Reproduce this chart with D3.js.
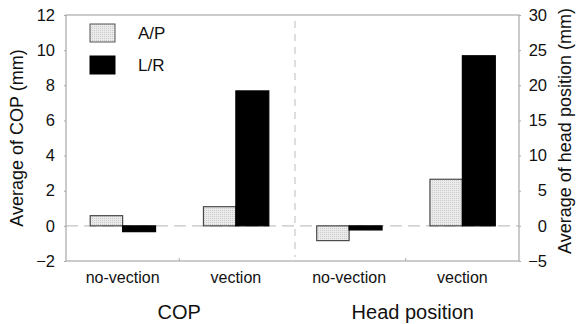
<!DOCTYPE html>
<html>
<head>
<meta charset="utf-8">
<script src="https://cdn.jsdelivr.net/npm/d3@7"></script>
<style>
  html, body { margin: 0; padding: 0; background: #fff; }
  svg { display: block; font-family: "Liberation Sans", Arial, sans-serif; }
</style>
</head>
<body>
<svg id="chart" width="578" height="324"></svg>
<script>
// Panels and conditions
const panels = ["COP", "Head position"];
const conditions = ["no-vection", "vection"];
const seriesNames = ["A/P", "L/R"];

// Mean displacement (mm) per panel, condition and direction
const copAP = [0.58, 1.09];
const copLR = [-0.33, 7.68];
const headAP = [-2.1, 6.63];
const headLR = [-0.58, 24.2];

// Axis tick labels
const copTicks = [-2, 0, 2, 4, 6, 8, 10, 12];
const headTicks = [-5, 0, 5, 10, 15, 20, 25, 30];

const svg = d3.select("#chart");
const margin = { left: 66, right: 59, top: 15, bottom: 63 };
const W = 578, H = 324;
const x0 = margin.left, x1 = W - margin.right;
const yTop = margin.top, yBot = H - margin.bottom;

// One band per (panel, condition) pair
const slots = [];
panels.forEach(p => conditions.forEach(c => slots.push(p + "|" + c)));
const x = d3.scaleBand().domain(slots).range([x0, x1]);
const xs = d3.scaleBand().domain(seriesNames).range([0, x.bandwidth()]).paddingOuter(0.72).paddingInner(0);

const yCop = d3.scaleLinear().domain([-2, 12]).range([yBot, yTop]);
const yHead = d3.scaleLinear().domain([-5, 30]).range([yBot, yTop]);

// Fine stipple fill for the A/P bars
const defs = svg.append("defs");
const pat = defs.append("pattern").attr("id", "dots")
  .attr("width", 2).attr("height", 2).attr("patternUnits", "userSpaceOnUse");
pat.append("rect").attr("width", 2).attr("height", 2).attr("fill", "#ebebeb");
pat.append("rect").attr("width", 1).attr("height", 1).attr("fill", "#cbcbcb");

const axisGray = "#a8a8a8";

// Zero reference line
svg.append("line")
  .attr("x1", x0).attr("x2", x1)
  .attr("y1", yCop(0)).attr("y2", yCop(0))
  .attr("stroke", "#c4c4c4").attr("stroke-width", 1.2)
  .attr("stroke-dasharray", "12,6");

// Divider between the two panels
const divX = x(panels[1] + "|" + conditions[0]) + 2.5;
svg.append("line")
  .attr("x1", divX).attr("x2", divX)
  .attr("y1", yTop + 6).attr("y2", yBot - 4)
  .attr("stroke", "#bdbdbd").attr("stroke-width", 1)
  .attr("stroke-dasharray", "7,6");

// Bars
const barData = [];
conditions.forEach((c, i) => {
  barData.push({ slot: "COP|" + c, s: "A/P", v: copAP[i], y: yCop });
  barData.push({ slot: "COP|" + c, s: "L/R", v: copLR[i], y: yCop });
  barData.push({ slot: "Head position|" + c, s: "A/P", v: headAP[i], y: yHead });
  barData.push({ slot: "Head position|" + c, s: "L/R", v: headLR[i], y: yHead });
});

svg.append("g").selectAll("rect").data(barData).join("rect")
  .attr("x", d => x(d.slot) + xs(d.s) + (d.s === "A/P" ? 0.5 : 0))
  .attr("width", d => xs.bandwidth() - (d.s === "A/P" ? 0.5 : 0))
  .attr("y", d => Math.min(d.y(d.v), d.y(0)))
  .attr("height", d => Math.abs(d.y(d.v) - d.y(0)))
  .attr("fill", d => d.s === "A/P" ? "url(#dots)" : "#000")
  .attr("stroke", d => d.s === "A/P" ? "#4a4a4a" : "#000")
  .attr("stroke-width", 1.2);

// Frame
svg.append("rect")
  .attr("x", x0).attr("y", yTop)
  .attr("width", x1 - x0).attr("height", yBot - yTop)
  .attr("fill", "none").attr("stroke", axisGray).attr("stroke-width", 1.2);

// Left axis
const gl = svg.append("g").attr("transform", `translate(${x0},0)`)
  .call(d3.axisLeft(yCop).tickValues(copTicks).tickSize(2).tickPadding(9).tickFormat(d3.format("d")));
gl.select(".domain").remove();
gl.selectAll(".tick line").attr("stroke", axisGray);
gl.selectAll("text").attr("font-size", 16.5).attr("fill", "#111")
  .attr("font-family", "'Liberation Sans', Arial, sans-serif");

// Right axis
const gr = svg.append("g").attr("transform", `translate(${x1},0)`)
  .call(d3.axisRight(yHead).tickValues(headTicks).tickSize(2).tickPadding(10).tickFormat(d3.format("d")));
gr.select(".domain").remove();
gr.selectAll(".tick line").attr("stroke", axisGray);
gr.selectAll("text").attr("font-size", 16.5).attr("fill", "#111")
  .attr("font-family", "'Liberation Sans', Arial, sans-serif")
  .attr("text-anchor", "end").attr("x", 28);

// Bottom separators between condition groups
[panels[0] + "|" + conditions[1], panels[1] + "|" + conditions[1]].forEach(s => {
  svg.append("line")
    .attr("x1", x(s)).attr("x2", x(s))
    .attr("y1", yBot).attr("y2", yBot - 3)
    .attr("stroke", axisGray).attr("stroke-width", 1);
});

// Condition labels
svg.append("g").selectAll("text").data(slots).join("text")
  .attr("x", d => x(d) + x.bandwidth() / 2)
  .attr("y", 283)
  .attr("text-anchor", "middle")
  .attr("font-size", 16)
  .attr("fill", "#111")
  .text(d => d.split("|")[1]);

// Panel labels
svg.append("g").selectAll("text").data(panels).join("text")
  .attr("x", d => (x(d + "|" + conditions[0]) + x(d + "|" + conditions[1]) + x.bandwidth()) / 2 + (d === "COP" ? 0 : 7))
  .attr("y", 319)
  .attr("text-anchor", "middle")
  .attr("font-size", 20)
  .attr("fill", "#111")
  .text(d => d);

// Axis titles
svg.append("text")
  .attr("transform", `translate(23,${(yTop + yBot) / 2}) rotate(-90)`)
  .attr("text-anchor", "middle")
  .attr("font-size", 18).attr("fill", "#111")
  .text("Average of COP (mm)");

svg.append("text")
  .attr("transform", `translate(571,${131}) rotate(-90)`)
  .attr("text-anchor", "middle")
  .attr("font-size", 18).attr("fill", "#111")
  .text("Average of head position (mm)");

// Legend
const legend = svg.append("g");
seriesNames.forEach((s, i) => {
  legend.append("rect")
    .attr("x", 90).attr("y", 24 + i * 32)
    .attr("width", 25).attr("height", 18)
    .attr("fill", s === "A/P" ? "url(#dots)" : "#000")
    .attr("stroke", s === "A/P" ? "#555" : "#000")
    .attr("stroke-width", 1);
  legend.append("text")
    .attr("x", 138).attr("y", 39 + i * 32)
    .attr("font-size", 17).attr("fill", "#111")
    .text(s);
});
</script>
</body>
</html>
